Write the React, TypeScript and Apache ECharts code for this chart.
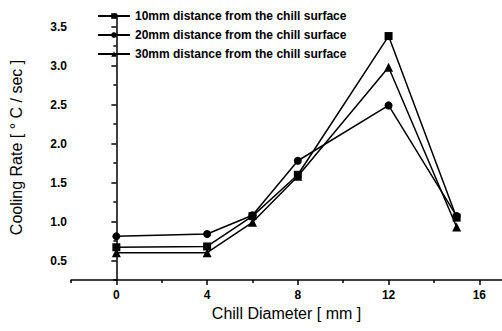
import React, { useEffect, useRef } from "react";
import * as echarts from "echarts";

const xValues = [0, 4, 6, 8, 12, 15];
const rate10mm = [0.67, 0.68, 1.07, 1.6, 3.38, 1.05];
const rate20mm = [0.81, 0.84, 1.08, 1.78, 2.49, 1.07];
const rate30mm = [0.6, 0.6, 0.99, 1.58, 2.98, 0.93];
const seriesNames = [
  "10mm distance from the chill surface",
  "20mm distance from the chill surface",
  "30mm distance from the chill surface",
];
const xMajorTicks = [0, 4, 8, 12, 16];
const xMinorTicks = [-2, 2, 6, 10, 14];
const yMajorTicks = [0.5, 1.0, 1.5, 2.0, 2.5, 3.0, 3.5];
const yMinorTicks = [0.25, 0.75, 1.25, 1.75, 2.25, 2.75, 3.25, 3.65];

const FONT = "Liberation Sans, Arial, sans-serif";

export default function App() {
  const ref = useRef<HTMLDivElement>(null);
  useEffect(() => {
    if (!ref.current) return;
    const chart = echarts.init(ref.current, null, { renderer: "svg" });
    const pair = (ys: number[]) => xValues.map((x, i) => [x, ys[i]]);
    const mk = (name: string, ys: number[], symbol: string, size: number) => ({
      name,
      type: "line",
      data: pair(ys),
      symbol,
      symbolSize: size,
      showAllSymbol: true,
      lineStyle: { color: "#000", width: 1.5 },
      itemStyle: { color: "#000" },
      xAxisIndex: 0,
      yAxisIndex: 0,
    });
    const axisLineStyle = { color: "#000", width: 1.5 };
    chart.setOption({
      animation: false,
      backgroundColor: "#fff",
      textStyle: { fontFamily: FONT },
      grid: { left: 70, right: 0, top: 15, bottom: 51, containLabel: false },
      legend: {
        show: true,
        orient: "vertical",
        left: 97,
        top: 9,
        padding: 0,
        itemWidth: 32,
        itemHeight: 7,
        itemGap: 5,
        textStyle: { fontFamily: FONT, fontSize: 12, fontWeight: "bold", color: "#000", lineHeight: 14 },
        data: seriesNames,
      },
      xAxis: [
        {
          type: "value",
          min: -2,
          max: 17,
          name: "Chill Diameter [ mm ]",
          nameLocation: "middle",
          nameGap: 19,
          nameTextStyle: { fontFamily: FONT, fontSize: 16, color: "#000" },
          axisLine: { show: true, lineStyle: axisLineStyle },
          axisTick: { show: true, length: 5, customValues: xMajorTicks, lineStyle: { color: "#000", width: 1.5 } },
          axisLabel: {
            customValues: xMajorTicks,
            margin: 9,
            fontFamily: FONT,
            fontSize: 12,
            fontWeight: "bold",
            color: "#000",
          },
          splitLine: { show: false },
        },
        {
          type: "value",
          min: -2,
          max: 17,
          position: "bottom",
          axisLine: { show: false },
          axisTick: { show: true, length: 3, customValues: xMinorTicks, lineStyle: { color: "#000", width: 1.5 } },
          axisLabel: { show: false },
          splitLine: { show: false },
        },
      ],
      yAxis: [
        {
          type: "value",
          min: 0.25,
          max: 3.65,
          name: "Cooling Rate [ ° C / sec ]",
          nameLocation: "middle",
          nameGap: 47,
          nameTextStyle: { fontFamily: FONT, fontSize: 16, color: "#000" },
          axisLine: { show: true, lineStyle: axisLineStyle },
          axisTick: { show: true, length: 5, customValues: yMajorTicks, lineStyle: { color: "#000", width: 1.5 } },
          axisLabel: {
            customValues: yMajorTicks,
            margin: 4,
            fontFamily: FONT,
            fontSize: 12,
            fontWeight: "bold",
            color: "#000",
            formatter: (v: number) => v.toFixed(1),
          },
          splitLine: { show: false },
        },
        {
          type: "value",
          min: 0.25,
          max: 3.65,
          position: "left",
          axisLine: { show: false },
          axisTick: { show: true, length: 3, customValues: yMinorTicks, lineStyle: { color: "#000", width: 1.5 } },
          axisLabel: { show: false },
          splitLine: { show: false },
        },
      ],
      series: [
        mk(seriesNames[0], rate10mm, "rect", 8),
        mk(seriesNames[1], rate20mm, "circle", 8),
        mk(seriesNames[2], rate30mm, "triangle", 9),
      ],
    });
    return () => chart.dispose();
  }, []);
  return (
    <div
      ref={ref}
      style={{ position: "fixed", left: 0, top: 0, width: 502, height: 331, background: "#fff" }}
    />
  );
}
